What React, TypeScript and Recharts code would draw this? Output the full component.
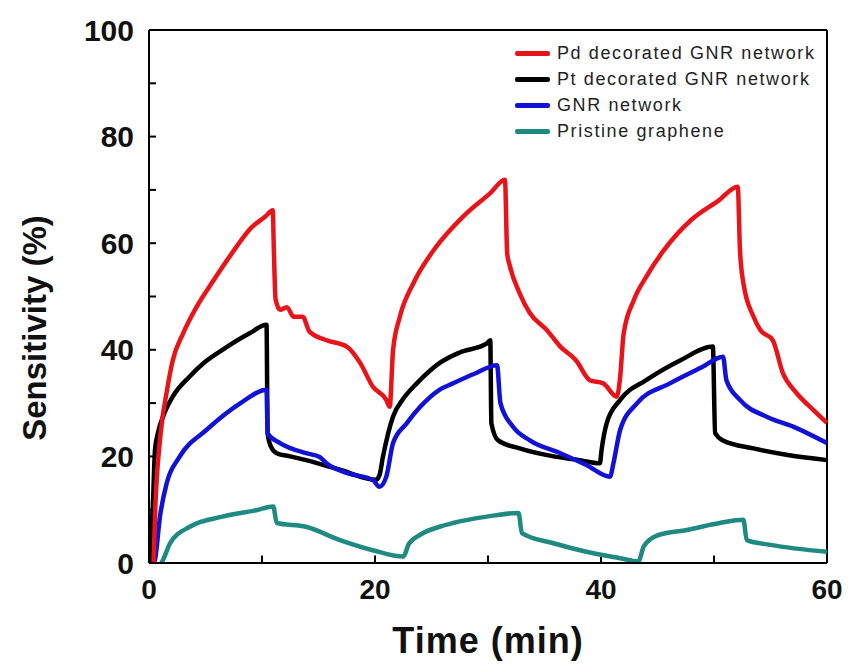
import React from "react";
import { LineChart, Line, XAxis, YAxis, ReferenceLine, Legend } from "recharts";

// values, time in minutes / sensitivity in %
const pdTime = [0.4, 0.55, 1.0, 1.6, 2.1, 3.0, 4.2, 5.7, 7.3, 9.1, 10.3, 10.95, 11.05, 11.2, 11.6, 12.2, 12.8, 13.6, 14.2, 15.7, 17.5, 18.7, 19.8, 21.0, 21.3, 21.6, 22.2, 23.4, 25.3, 27.8, 30.2, 31.5, 31.7, 31.9, 32.8, 33.7, 35.2, 36.4, 37.8, 39.0, 40.2, 41.4, 41.7, 42.0, 42.9, 44.0, 45.5, 48.0, 50.4, 52.1, 52.3, 52.6, 53.5, 54.1, 55.2, 56.1, 57.3, 58.8, 60.0];
const pdValue = [0, 9.9, 23.7, 32.5, 38, 43, 48, 53, 58, 63, 65, 66.2, 58.7, 49.5, 47.5, 48, 46.2, 46.2, 43.4, 41.8, 40.6, 37.5, 33.1, 30.6, 29.3, 40, 46.2, 52.5, 59, 65, 69.4, 71.9, 58, 56, 50.6, 46.9, 43.7, 40.6, 38, 34.3, 33.7, 31.2, 35, 43, 49.3, 53.7, 58.5, 64.4, 68, 70.6, 58.7, 52.5, 46.2, 43.7, 41.8, 35.6, 31.9, 28.7, 26.3];

const ptTime = [0.1, 0.37, 0.53, 0.8, 1.25, 2.1, 3.6, 5.0, 6.5, 8.9, 10.4, 10.5, 10.8, 11.3, 12.5, 13.9, 16.9, 20.1, 20.4, 20.7, 21.6, 22.5, 23.7, 25.7, 27.5, 29.9, 30.2, 30.3, 30.9, 32.8, 35.8, 38.1, 39.9, 40.05, 40.5, 41.7, 44.0, 47.0, 49.9, 50.1, 50.8, 53.5, 56.4, 60.0];
const ptValue = [0, 12.4, 21.2, 24.5, 27.5, 31.2, 35, 37.8, 40, 43.1, 44.7, 24.3, 21.8, 20.6, 20, 19.3, 17.5, 15.6, 16.5, 19.9, 27.5, 30.8, 33.7, 37.5, 39.5, 41.2, 41.8, 26.2, 23, 21.5, 20, 19.3, 18.7, 21.2, 26.2, 30.6, 34.3, 38, 40.6, 24.4, 23, 21.5, 20.3, 19.3];

const gnrTime = [0.45, 0.53, 0.97, 1.57, 2.7, 5.1, 8.1, 10.4, 10.5, 11.6, 13.9, 15.1, 15.7, 17.5, 19.8, 20.4, 21.0, 21.6, 22.8, 24.0, 25.7, 26.9, 28.8, 30.8, 31.1, 32.2, 33.7, 36.4, 38.7, 40.8, 41.1, 41.7, 43.2, 46.1, 49.0, 50.8, 51.1, 52.3, 54.7, 57.0, 60.0];
const gnrValue = [0, 0.6, 8.7, 15, 19.9, 25, 30, 32.5, 24.3, 22.5, 20.6, 19.9, 18.7, 16.9, 15.6, 14.3, 16.2, 22.5, 26.2, 29.3, 32.5, 33.7, 35.5, 37.1, 30, 25.6, 23, 20.6, 18.4, 16.2, 18.7, 25, 30, 33.7, 36.8, 38.7, 34.3, 30.6, 27.4, 25.6, 22.5];

const grapheneTime = [1.1, 1.25, 1.86, 3.6, 6.5, 9.5, 11.0, 11.3, 13.9, 16.9, 19.8, 22.5, 23.0, 24.0, 25.7, 26.9, 29.9, 32.7, 33.0, 35.8, 38.7, 41.7, 43.3, 43.8, 45.0, 47.6, 50.5, 52.6, 52.9, 55.0, 60.0];
const grapheneValue = [0, 0.6, 3.7, 6.8, 8.7, 9.9, 10.6, 7.5, 6.8, 4.3, 2.4, 1.2, 3.6, 5.3, 6.8, 7.5, 8.7, 9.4, 5.6, 3.7, 2.1, 0.9, 0.3, 3.2, 5.2, 6.2, 7.5, 8.1, 4.3, 3.4, 2.1];

const xTicks = [0, 10, 20, 30, 40, 50, 60];
const yTicks = [0, 10, 20, 30, 40, 50, 60, 70, 80, 90, 100];

const zip = (t: number[], v: number[]) => t.map((x, i) => ({ t: x, v: v[i] }));

const SERIES = [
  { name: "Pd decorated GNR network", color: "#e8141a", data: zip(pdTime, pdValue) },
  { name: "Pt decorated GNR network", color: "#000000", data: zip(ptTime, ptValue) },
  { name: "GNR network", color: "#1212d6", data: zip(gnrTime, gnrValue) },
  { name: "Pristine graphene", color: "#1f8a82", data: zip(grapheneTime, grapheneValue) },
];
// black under blue, red on top of both
const DRAW_ORDER = [1, 2, 0, 3];

const FONT = '"Liberation Sans", Arial, sans-serif';

function LegendBox() {
  return (
    <div style={{ fontFamily: FONT }}>
      {SERIES.map((s) => (
        <div
          key={s.name}
          style={{ display: "flex", alignItems: "center", height: 26 }}
        >
          <span
            style={{
              display: "inline-block",
              width: 35,
              height: 5,
              borderRadius: 2,
              background: s.color,
              marginRight: 7,
            }}
          />
          <span style={{ fontSize: 18, letterSpacing: 1.6, color: "#222" }}>
            {s.name}
          </span>
        </div>
      ))}
    </div>
  );
}

export default function App() {
  return (
    <div style={{ position: "absolute", left: 0, top: 0, fontFamily: FONT }}>
      <LineChart
        width={848}
        height={671}
        margin={{ top: 30, right: 21, bottom: 0, left: 0 }}
      >
        <XAxis
          type="number"
          dataKey="t"
          domain={[0, 60]}
          ticks={xTicks}
          height={108}
          tickSize={0}
          tickMargin={16}
          tickLine={false}
          tickFormatter={(v) => (v % 20 === 0 ? String(v) : "")}
          tick={{ fontSize: 28, fontWeight: "bold", fill: "#111" }}
          axisLine={{ stroke: "#000", strokeWidth: 2 }}
          label={{
            content: () => (
              <text
                x={488}
                y={653}
                textAnchor="middle"
                fontSize={36}
                letterSpacing={1}
                fontWeight="bold"
                fill="#111"
              >
                Time (min)
              </text>
            ),
          }}
        />
        <YAxis
          type="number"
          domain={[0, 100]}
          ticks={yTicks}
          width={149}
          tickSize={0}
          tickMargin={15}
          tickLine={false}
          tickFormatter={(v) => (v % 20 === 0 ? String(v) : "")}
          tick={{ fontSize: 30, fontWeight: "bold", fill: "#111" }}
          axisLine={{ stroke: "#000", strokeWidth: 2 }}
          label={{
            content: () => (
              <text
                x={46}
                y={328}
                transform="rotate(-90 46 328)"
                textAnchor="middle"
                fontSize={33}
                fontWeight="bold"
                fill="#111"
              >
                Sensitivity (%)
              </text>
            ),
          }}
        />
        <ReferenceLine y={100} stroke="#000" strokeWidth={2} />
        <ReferenceLine x={60} stroke="#000" strokeWidth={2} />
        {/* inward tick marks */}
        {xTicks.slice(1, -1).map((t) => (
          <ReferenceLine
            key={"xt" + t}
            segment={[{ x: t, y: 0 }, { x: t, y: 1.4 }]}
            stroke="#000"
            strokeWidth={2}
          />
        ))}
        {yTicks.slice(1, -1).map((v) => (
          <ReferenceLine
            key={"yt" + v}
            segment={[{ x: 0, y: v }, { x: 0.62, y: v }]}
            stroke="#000"
            strokeWidth={2}
          />
        ))}
        {DRAW_ORDER.map((i) => (
          <Line
            key={SERIES[i].name}
            data={SERIES[i].data}
            dataKey="v"
            name={SERIES[i].name}
            type="monotone"
            stroke={SERIES[i].color}
            strokeWidth={4.5}
            dot={false}
            isAnimationActive={false}
          />
        ))}
        <Legend
          layout="vertical"
          align="center"
          verticalAlign="middle"
          content={() => <LegendBox />}
          wrapperStyle={{ left: 515, top: 40, right: "auto", bottom: "auto", width: 320 }}
        />
      </LineChart>
    </div>
  );
}
